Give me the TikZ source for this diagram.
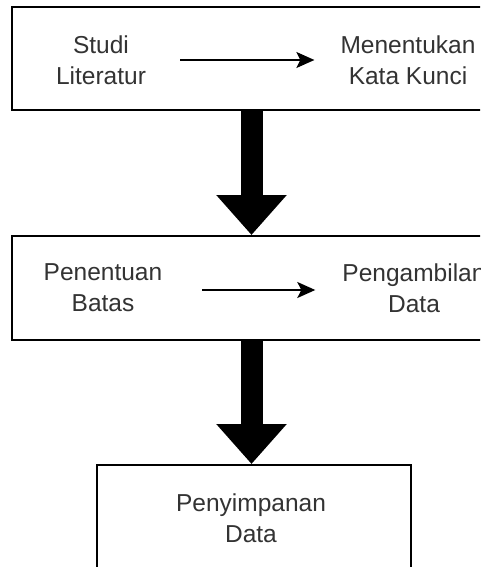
\documentclass[tikz,border=0pt]{standalone}
\usepackage{fontspec}
\setmainfont{Liberation Sans}
\usetikzlibrary{arrows.meta}
\definecolor{txt}{HTML}{333333}
\begin{document}
\begin{tikzpicture}[x=1pt,y=-1pt,
  box/.style={draw=black,line width=2pt,fill=white,inner sep=0pt},
  lbl/.style={align=center,inner sep=0pt,text=txt,font=\fontsize{24.5}{31}\selectfont},
  thin/.style={line width=1.6pt,-{Stealth[length=18pt,width=16pt,inset=4pt]}},
  big/.style={line width=22pt,-{Triangle[length=40pt,width=68pt]}}]
\useasboundingbox (0,0) rectangle (480,567);
\clip (0,0) rectangle (480,567);
\node[box,minimum width=480pt,minimum height=103pt] (box1) at (252,58.5) {};
\node[box,minimum width=480pt,minimum height=104pt] (box2) at (252,288) {};
\node[box,minimum width=313.5pt,minimum height=135pt] (box3) at (253.75,532.5) {};
\coordinate (ax) at (251.5,0);
\node[lbl] (t1) at (101,60) {Studi\\Literatur};
\node[lbl] (t2) at (408,60) {Menentukan\\Kata Kunci};
\node[lbl] (t3) at (103,288) {Penentuan\\Batas};
\node[lbl] (t4) at (414,288) {Pengambilan\\Data};
\node[lbl] (t5) at (251,518) {Penyimpanan\\Data};
\draw[thin,shorten <=34pt,shorten >=26pt] (t1.east |- 0,60) -- (t2.west |- 0,60);
\draw[thin,shorten <=40pt,shorten >=27pt] (t3.east |- 0,290) -- (t4.west |- 0,290);
\draw[big] (box1.south -| ax) -- (box2.north -| ax);
\draw[big] (box2.south -| ax) -- (box3.north -| ax);
\end{tikzpicture}
\end{document}
